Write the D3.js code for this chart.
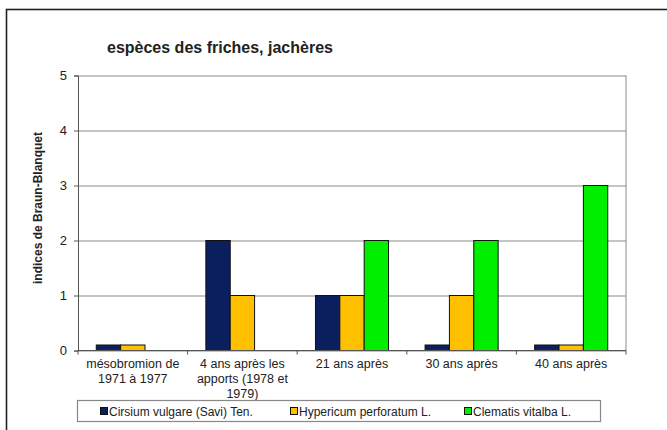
<!DOCTYPE html>
<html>
<head>
<meta charset="utf-8">
<script src="https://cdn.jsdelivr.net/npm/d3@7"></script>
<style>
  body { margin: 0; background: #fff; }
  text { font-family: "Liberation Sans", Arial, sans-serif; fill: #222; }
</style>
</head>
<body>
<svg id="chart"></svg>
<script>
// Data
const categories = [
  ["mésobromion de", "1971 à 1977"],
  ["4 ans après les", "apports (1978 et", "1979)"],
  ["21 ans après"],
  ["30 ans après"],
  ["40 ans après"],
];
const seriesNames = [
  "Cirsium vulgare (Savi) Ten.",
  "Hypericum perforatum L.",
  "Clematis vitalba L.",
];
const cirsium = [0.1, 2, 1, 0.1, 0.1];
const hypericum = [0.1, 1, 1, 1, 0.1];
const clematis = [0, 0, 2, 2, 3];
const yTicks = [0, 1, 2, 3, 4, 5];

const seriesValues = [cirsium, hypericum, clematis];
const seriesColors = ["#0b1f5e", "#ffc000", "#00ee00"];

// Dimensions
const totalWidth = 667;
const totalHeight = 430;
const margin = { top: 75.5, right: 41, bottom: 79.5, left: 78 };
const graphWidth = totalWidth - margin.left - margin.right;
const graphHeight = totalHeight - margin.top - margin.bottom;

const svg = d3.select("#chart").attr("width", totalWidth).attr("height", totalHeight);

// outer chart frame (runs off the right and bottom edges)
svg.append("rect")
  .attr("x", 6.5).attr("y", 9.5)
  .attr("width", 700).attr("height", 450)
  .attr("fill", "none").attr("stroke", "#222").attr("stroke-width", 1.6);

svg.append("text")
  .attr("x", 107).attr("y", 53)
  .style("font-size", "16px").style("font-weight", "bold")
  .text("espèces des friches, jachères");

const g = svg.append("g").attr("transform", `translate(${margin.left},${margin.top})`);

// Scales
const x0 = d3.scaleBand().domain(d3.range(categories.length)).range([0, graphWidth]);
const x1 = d3.scaleBand().domain(d3.range(seriesNames.length))
  .range([0, x0.bandwidth()]).paddingInner(0).paddingOuter(0.75);
const y = d3.scaleLinear().domain([0, 5]).range([graphHeight, 0]);

// gridlines
g.append("g")
  .call(d3.axisLeft(y).tickValues(yTicks).tickSize(-graphWidth).tickFormat(""))
  .call((s) => s.select(".domain").remove())
  .selectAll("line").attr("stroke", "#8a8a8a");

// plot area right border
g.append("line")
  .attr("x1", graphWidth).attr("x2", graphWidth)
  .attr("y1", 0).attr("y2", graphHeight)
  .attr("stroke", "#8a8a8a");

// bars
seriesValues.forEach((vals, si) => {
  g.append("g").selectAll("rect")
    .data(vals.map((v, ci) => ({ v, ci })).filter((d) => d.v > 0))
    .enter()
    .append("rect")
    .attr("x", (d) => x0(d.ci) + x1(si))
    .attr("y", (d) => y(d.v))
    .attr("width", x1.bandwidth())
    .attr("height", (d) => graphHeight - y(d.v))
    .attr("fill", seriesColors[si])
    .attr("stroke", "#111")
    .attr("stroke-width", 1);
});

// Y axis
const yAxis = g.append("g")
  .call(d3.axisLeft(y).tickValues(yTicks).tickFormat(d3.format("d")).tickSize(4).tickPadding(7));
yAxis.select(".domain").attr("stroke", "#555");
yAxis.selectAll("line").attr("stroke", "#555");
yAxis.selectAll("text").style("font-size", "13px").attr("fill", "#333");

// X axis
const xAxis = g.append("g").attr("transform", `translate(0,${graphHeight})`);
xAxis.append("line")
  .attr("x1", 0).attr("x2", graphWidth)
  .attr("stroke", "#555");
xAxis.selectAll(".xtick")
  .data(d3.range(categories.length + 1))
  .enter()
  .append("line")
  .attr("x1", (d) => d * x0.step()).attr("x2", (d) => d * x0.step())
  .attr("y1", 0).attr("y2", 4)
  .attr("stroke", "#555");
xAxis.selectAll(".xlabel")
  .data(categories)
  .enter()
  .append("text")
  .attr("text-anchor", "middle")
  .attr("fill", "#333")
  .style("font-size", "12.5px")
  .each(function (lines, i) {
    d3.select(this).selectAll("tspan")
      .data(lines)
      .enter()
      .append("tspan")
      .attr("x", x0(i) + x0.bandwidth() / 2)
      .attr("y", (l, k) => 17 + k * 15)
      .text((l) => l);
  });

// Y title
svg.append("text")
  .attr("transform", "translate(42,208) rotate(-90)")
  .attr("text-anchor", "middle")
  .style("font-size", "12px").style("font-weight", "bold")
  .text("indices de Braun-Blanquet");

// Legend
const legend = svg.append("g");
legend.append("rect")
  .attr("x", 77.5).attr("y", 400.5)
  .attr("width", 523).attr("height", 21)
  .attr("fill", "#fff").attr("stroke", "#888").attr("stroke-width", 1.2);
const legendX = [100, 290, 464];
seriesNames.forEach((name, i) => {
  legend.append("rect")
    .attr("x", legendX[i] + 0.5).attr("y", 407.5)
    .attr("width", 7).attr("height", 7)
    .attr("fill", seriesColors[i]).attr("stroke", "#111");
  legend.append("text")
    .attr("x", legendX[i] + 9).attr("y", 415.5)
    .style("font-size", "12px")
    .attr("fill", "#333")
    .text(name);
});
</script>
</body>
</html>
